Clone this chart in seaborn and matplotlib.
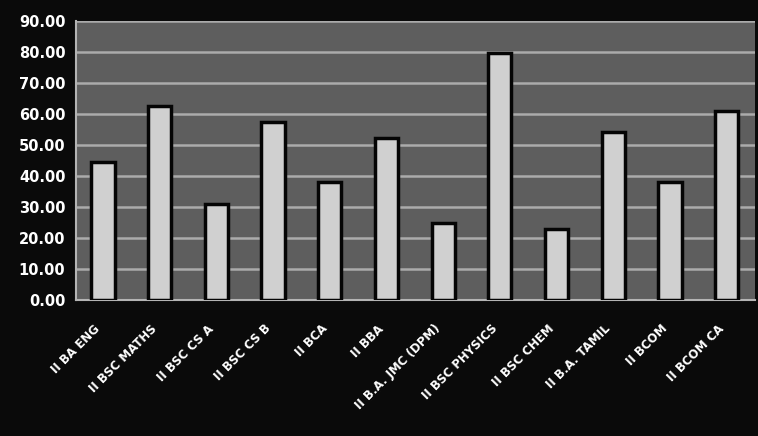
"""
Bar chart of class-wise percentages, redrawn from a printed chart.
"""

import numpy as np
import pandas as pd
import seaborn as sns
import matplotlib.pyplot as plt
import matplotlib.transforms as mtransforms

classes = ["II BA ENG", "II BSC MATHS", "II BSC CS A", "II BSC CS B",
           "II BCA", "II BBA", "II B.A. JMC (DPM)", "II BSC PHYSICS",
           "II BSC CHEM", "II B.A. TAMIL", "II BCOM", "II BCOM CA"]
percent = [44.5, 62.6, 31.0, 57.5, 38.2, 52.2, 24.8, 79.6, 23.0, 54.3,
           38.2, 60.8]
y_ticks = [0, 10, 20, 30, 40, 50, 60, 70, 80, 90]

sns.set_style("dark")
plt.rcParams["font.family"] = ["DejaVu Sans"]

data = pd.DataFrame({"class": classes, "percent": percent})

fig = plt.figure(figsize=(7.58, 4.36), dpi=100, facecolor="#0a0a0a")
ax = fig.add_axes([0.100, 0.312, 0.896, 0.64])
ax.set_facecolor("#5e5e5e")

sns.barplot(x="class", y="percent", data=data, color="#d0d0d0",
            width=0.41, saturation=1, edgecolor="#050505", linewidth=2.5,
            ax=ax, zorder=3)

ax.set_ylim(0, 90)
ax.set_yticks(y_ticks)
ax.set_yticklabels([f"{t:.2f}" for t in y_ticks], color="white",
                   fontsize=10.5, fontweight="bold")
ax.set_xticks(range(len(classes)))
ax.set_xticklabels(classes, rotation=45, ha="right", va="top",
                   color="white", fontsize=8.5, fontweight="bold")
# nudge the rotated labels so their top-right corner sits under the bar
shift = mtransforms.ScaledTranslation(8 / 72, 0, fig.dpi_scale_trans)
for lbl in ax.get_xticklabels():
    lbl.set_transform(lbl.get_transform() + shift)
ax.set_xticks(np.arange(-0.5, len(classes), 1), minor=True)
ax.set_xlim(-0.48, len(classes) - 0.5)
ax.yaxis.grid(True, color="#ababab", linewidth=1.8, zorder=1)
ax.tick_params(axis="x", which="major", length=0, pad=16)
ax.tick_params(axis="x", which="minor", length=4, color="#b4b4b4")
ax.tick_params(axis="y", colors="#b4b4b4", length=4, labelcolor="white")
ax.set_xlabel("")
ax.set_ylabel("")
for side in ["top", "right"]:
    ax.spines[side].set_visible(False)
for side in ["left", "bottom"]:
    ax.spines[side].set_color("#b4b4b4")
    ax.spines[side].set_linewidth(1.5)

fig.savefig("out.png", facecolor=fig.get_facecolor())
plt.close(fig)
